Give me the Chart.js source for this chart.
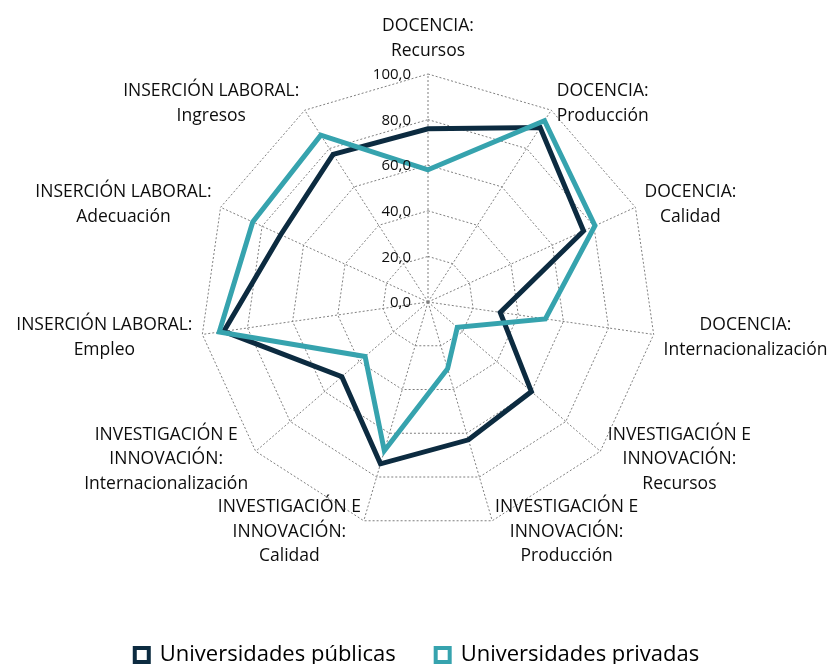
<!DOCTYPE html>
<html>
<head>
<meta charset="utf-8">
<script src="https://cdn.jsdelivr.net/npm/chart.js@4/dist/chart.umd.min.js"></script>
<style>
  html, body { margin: 0; padding: 0; background: #fff; }
  canvas { display: block; }
</style>
</head>
<body>
<canvas id="radar" width="834" height="664"></canvas>
<script>
// axis labels (one array of lines per axis)
const categories = [
  ['DOCENCIA:', 'Recursos'],
  ['DOCENCIA:', 'Producción'],
  ['DOCENCIA:', 'Calidad'],
  ['DOCENCIA:', 'Internacionalización'],
  ['INVESTIGACIÓN E', 'INNOVACIÓN:', 'Recursos'],
  ['INVESTIGACIÓN E', 'INNOVACIÓN:', 'Producción'],
  ['INVESTIGACIÓN E', 'INNOVACIÓN:', 'Calidad'],
  ['INVESTIGACIÓN E', 'INNOVACIÓN:', 'Internacionalización'],
  ['INSERCIÓN LABORAL:', 'Empleo'],
  ['INSERCIÓN LABORAL:', 'Adecuación'],
  ['INSERCIÓN LABORAL:', 'Ingresos']
];

const publicas = [76, 91, 75, 32, 60, 63, 74, 50, 90.5, 71, 77];
const privadas = [58, 94.5, 80.5, 52, 17, 30.5, 68, 36.5, 92.5, 84.5, 87];

const seriesNames = ['Universidades públicas', 'Universidades privadas'];
const tickValues = [0, 20, 40, 60, 80, 100];

const DARK = '#0c2b40';
const TEAL = '#36a3ae';
const FONT = "'Open Sans', 'Noto Sans', sans-serif";

const fmt = v => v.toFixed(1).replace('.', ',');

// draws tick labels and multi-line axis labels like the original
const labelPlugin = {
  id: 'labels',
  afterDraw(chart) {
    const scale = chart.scales.r;
    const ctx = chart.ctx;
    ctx.save();
    ctx.fillStyle = '#0d0d0d';

    // tick labels, right aligned to the left of the vertical axis
    ctx.font = '15px ' + FONT;
    ctx.textAlign = 'right';
    ctx.textBaseline = 'middle';
    tickValues.forEach(v => {
      const d = scale.getDistanceFromCenterForValue(v);
      ctx.fillText(fmt(v), scale.xCenter - 17, scale.yCenter - d + 1);
    });

    // point labels
    ctx.font = '17.5px ' + FONT;
    ctx.textAlign = 'center';
    const lineH = 24.5;
    const n = categories.length;
    categories.forEach((lines, i) => {
      const angle = i / n * Math.PI * 2;
      const s = Math.sin(angle);
      const p = scale.getPointPosition(i, scale.drawingArea + 10);
      const w = Math.max(...lines.map(t => ctx.measureText(t).width));
      const h = lines.length * lineH;
      let cx = p.x;
      if (s > 0.1) cx = p.x + w / 2;
      else if (s < -0.1) cx = p.x - w / 2;
      let cy = p.y + 1.5;
      if (Math.abs(s) <= 0.1) cy = p.y - h / 2 - 1;
      lines.forEach((t, k) => {
        ctx.fillText(t, cx, cy - h / 2 + lineH * (k + 0.5));
      });
    });
    ctx.restore();
  }
};

new Chart(document.getElementById('radar'), {
  type: 'radar',
  data: {
    labels: categories,
    datasets: [
      {
        label: seriesNames[0],
        data: publicas,
        borderColor: DARK,
        backgroundColor: '#ffffff',
        borderWidth: 5,
        fill: false,
        order: 1
      },
      {
        label: seriesNames[1],
        data: privadas,
        borderColor: TEAL,
        backgroundColor: '#ffffff',
        borderWidth: 5,
        fill: false,
        order: 0
      }
    ]
  },
  options: {
    responsive: false,
    devicePixelRatio: 1,
    animation: false,
    layout: { padding: { bottom: -12 } },
    elements: {
      point: { radius: 0, hoverRadius: 0 },
      line: { tension: 0, borderJoinStyle: 'miter' }
    },
    scales: {
      r: {
        min: 0,
        max: 100,
        ticks: { display: false, stepSize: 20 },
        pointLabels: { display: false },
        grid: { color: '#7f7f7f', lineWidth: 1 },
        border: { dash: [2, 2] },
        angleLines: { color: '#7f7f7f', lineWidth: 1, borderDash: [2, 2] },
        // fix the plot position to match the original
        afterFit(scale) {
          scale.xCenter = 428;
          scale.yCenter = 302;
          scale.drawingArea = 228;
        }
      }
    },
    plugins: {
      tooltip: { enabled: false },
      legend: {
        position: 'bottom',
        labels: {
          font: { family: FONT, size: 22 },
          color: '#0d0d0d',
          boxWidth: 14,
          boxHeight: 14,
          padding: 40,
          generateLabels(chart) {
            return chart.data.datasets.map((ds, i) => ({
              text: ds.label,
              fillStyle: '#ffffff',
              strokeStyle: ds.borderColor,
              lineWidth: 4,
              hidden: false,
              datasetIndex: i
            }));
          }
        }
      }
    }
  },
  plugins: [labelPlugin]
});
</script>
</body>
</html>
